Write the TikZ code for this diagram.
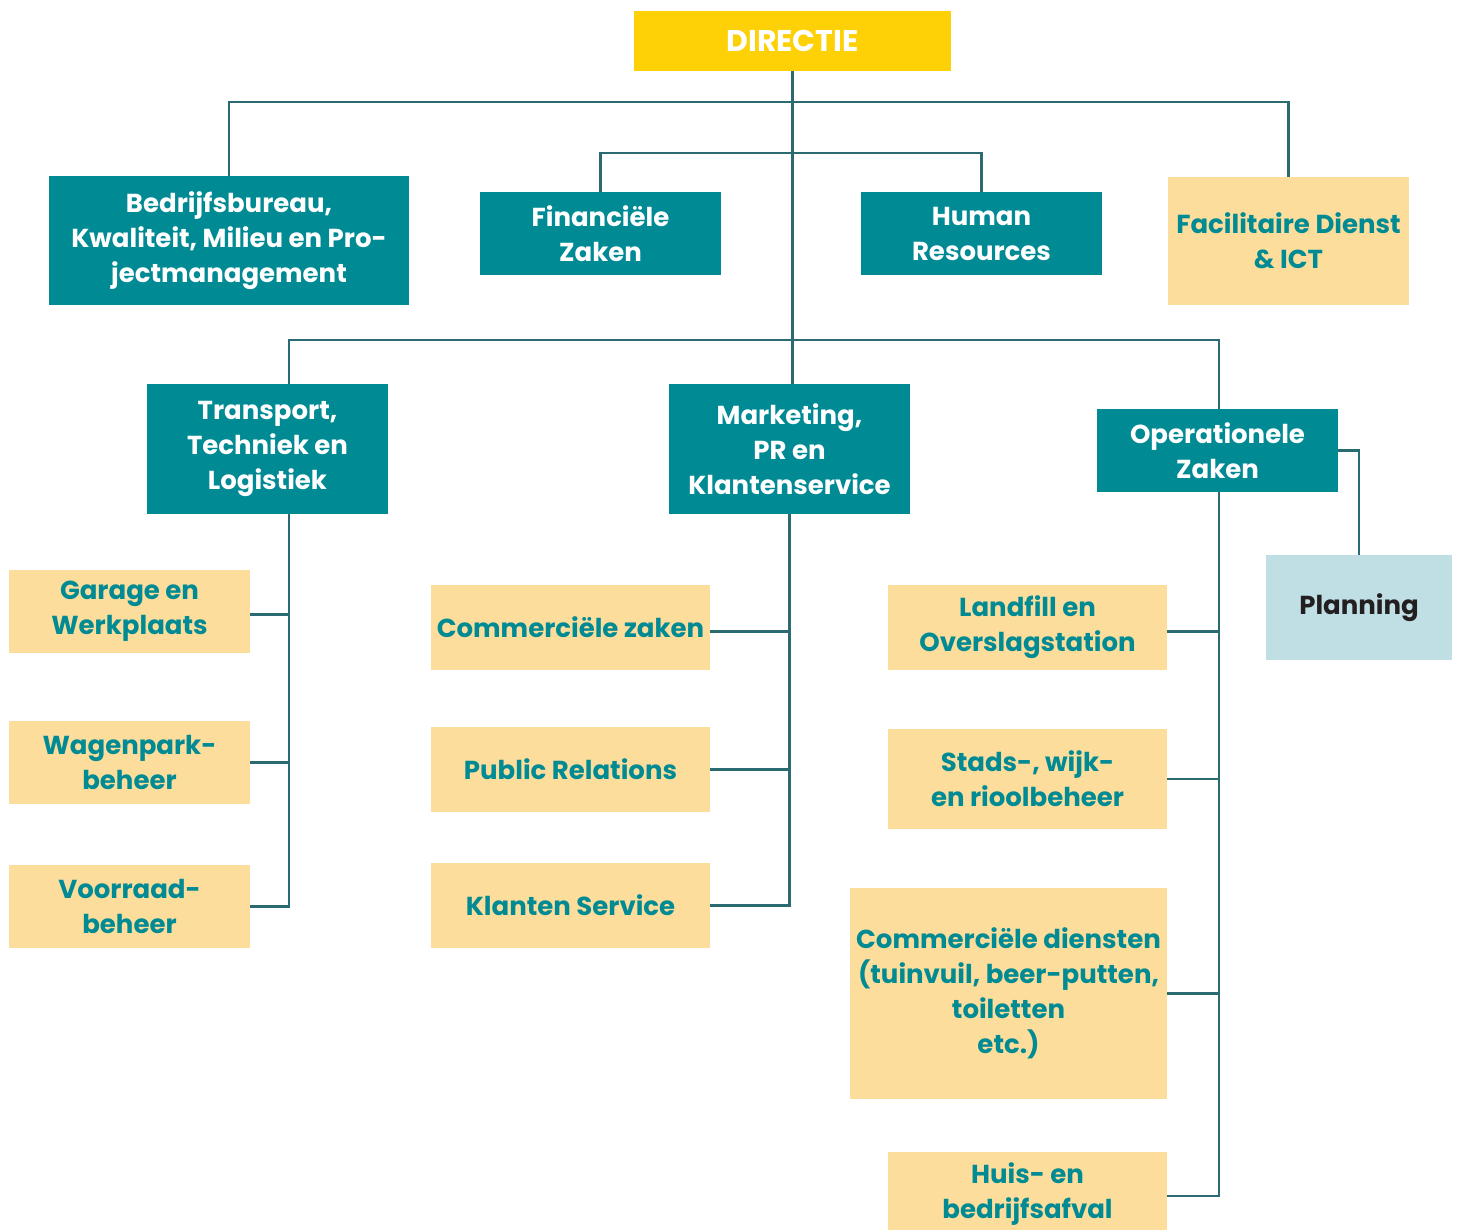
\documentclass[tikz,border=0pt]{standalone}
\usepackage{fontspec}
\setmainfont{Poppins}
\definecolor{teal}{HTML}{008A94}
\definecolor{gold}{HTML}{FDD106}
\definecolor{sand}{HTML}{FDDD9B}
\definecolor{ice}{HTML}{C0DFE4}
\definecolor{wire}{HTML}{2A6A71}
\definecolor{ink}{HTML}{231F20}
\begin{document}
\begin{tikzpicture}[x=1pt,y=-1pt,
  base/.style={inner sep=0pt, align=center, font=\fontsize{26}{35}\selectfont\bfseries},
  head/.style={base, fill=teal, text=white},
  sub/.style={base, fill=sand, text=teal},
  top/.style={base, fill=gold, text=white, font=\fontsize{30}{35}\selectfont\bfseries},
  plan/.style={base, fill=ice, text=ink},
  wirel/.style={draw=wire, line width=2.6pt}]
\useasboundingbox (0,0) rectangle (1459,1230);
\node[top, minimum width=317pt, minimum height=60pt] (dir) at (792.5,41) {DIRECTIE};
\node[head, minimum width=360pt, minimum height=129pt] (bed) at (229,240.5) {Bedrijfsbureau,\\Kwaliteit, Milieu en Pro-\\jectmanagement};
\node[head, minimum width=241pt, minimum height=83pt] (fin) at (600.5,233.5) {Financiële\\Zaken};
\node[head, minimum width=241pt, minimum height=83pt] (hr) at (981.5,233.5) {Human\\Resources};
\node[sub, minimum width=241pt, minimum height=128pt] (fac) at (1288.5,241) {Facilitaire Dienst\\\& ICT};
\node[head, minimum width=241pt, minimum height=130pt] (tra) at (267.5,449) {Transport,\\Techniek en\\Logistiek};
\node[head, minimum width=241pt, minimum height=130pt] (mar) at (789.5,449) {Marketing,\\PR en\\Klantenservice};
\node[head, minimum width=241pt, minimum height=83pt] (ope) at (1217.5,450.5) {Operationele\\Zaken};
\node[plan, minimum width=186pt, minimum height=105pt] (pla) at (1359,607.5) {Planning};
\node[sub, minimum width=241pt, minimum height=83pt] (gar) at (129.5,611.5) {Garage en\\Werkplaats};
\node[sub, minimum width=241pt, minimum height=83pt] (wag) at (129.5,762.5) {Wagenpark-\\beheer};
\node[sub, minimum width=241pt, minimum height=83pt] (voo) at (129.5,906.5) {Voorraad-\\beheer};
\node[sub, minimum width=279pt, minimum height=85pt] (coz) at (570.5,627.5) {Commerciële zaken};
\node[sub, minimum width=279pt, minimum height=85pt] (pr) at (570.5,769.5) {Public Relations};
\node[sub, minimum width=279pt, minimum height=85pt] (kl) at (570.5,905.5) {Klanten Service};
\node[sub, minimum width=279pt, minimum height=85pt] (lan) at (1027.5,627.5) {Landfill en\\Overslagstation};
\node[sub, minimum width=279pt, minimum height=100pt] (sta) at (1027.5,779) {Stads-, wijk-\\en rioolbeheer};
\node[sub, minimum width=317pt, minimum height=211pt] (cod) at (1008.5,993.5) {Commerciële diensten\\(tuinvuil, beer-putten,\\toiletten\\etc.)};
\node[sub, minimum width=279pt, minimum height=78pt, text height=0pt, text depth=0pt] (hui) at (1027.5,1191) {};
\node[base, text=teal] (huit) at (1027.5,1194) {Huis- en\\bedrijfsafval};
% spine coordinates
\coordinate (b1) at (791,102);
\coordinate (b2) at (791,153);
\coordinate (b3) at (791,340);
\coordinate (ts) at (289,514);
\coordinate (os) at (1219,492);
% connectors
\draw[wirel] (dir.south) -- (dir.south |- mar.north);
\draw[wirel] (bed.north) -- (bed.north |- b1) -- (fac.north |- b1) -- (fac.north);
\draw[wirel] (fin.north) -- (fin.north |- b2) -- (hr.north |- b2) -- (hr.north);
\draw[wirel] (ts |- tra.north) -- (ts |- b3) -- (os |- b3) -- (os |- ope.north);
\draw[wirel] (ts) -- (ts |- voo.east) -- (voo.east);
\draw[wirel] ([yshift=-3pt]gar.east) -- ([yshift=-3pt]gar.east -| ts);
\draw[wirel] (wag.east) -- (wag.east -| ts);
\draw[wirel] (mar.south) -- (mar.south |- kl.east) -- (kl.east);
\draw[wirel] ([yshift=-4pt]coz.east) -- ([yshift=-4pt]coz.east -| mar.south);
\draw[wirel] (pr.east) -- (pr.east -| mar.south);
\draw[wirel] (os) -- ([yshift=-5pt]os |- hui.east) -- ([yshift=-5pt]hui.east);
\draw[wirel] ([yshift=-4pt]lan.east) -- ([yshift=-4pt]lan.east -| os);
\draw[wirel] (sta.east) -- (sta.east -| os);
\draw[wirel] (cod.east) -- (cod.east -| os);
\draw[wirel] (ope.east) -| (pla.north);
\end{tikzpicture}
\end{document}
